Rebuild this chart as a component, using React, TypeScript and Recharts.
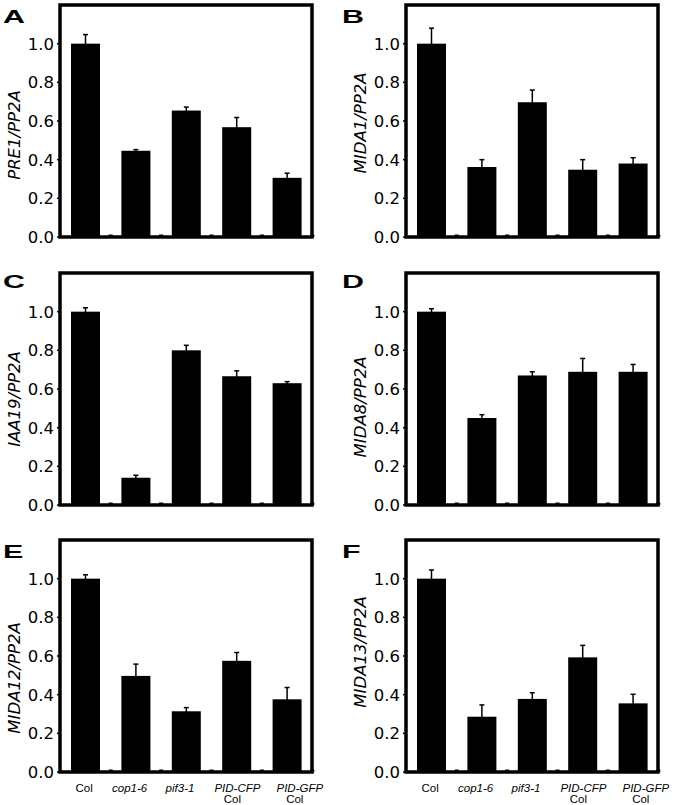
import React from 'react';
import { BarChart, Bar, XAxis, YAxis, ErrorBar, ReferenceArea } from 'recharts';

// genotypes on the x axis (second line is the background line)
const genotypes = ['Col', 'cop1-6', 'pif3-1', 'PID-CFP', 'PID-GFP'];
const backgrounds = ['', '', '', 'Col', 'Col'];
const yTicks = [0, 0.2, 0.4, 0.6, 0.8, 1.0];

// relative expression (mean) and upper error, per gene
const pre1Means = [1.0, 0.446, 0.654, 0.568, 0.306];
const pre1Errors = [0.047, 0.006, 0.018, 0.05, 0.024];

const mida1Means = [1.0, 0.362, 0.697, 0.348, 0.38];
const mida1Errors = [0.08, 0.038, 0.063, 0.052, 0.03];

const iaa19Means = [1.0, 0.141, 0.8, 0.666, 0.63];
const iaa19Errors = [0.02, 0.013, 0.026, 0.028, 0.008];

const mida8Means = [1.0, 0.45, 0.67, 0.689, 0.689];
const mida8Errors = [0.015, 0.017, 0.019, 0.069, 0.038];

const mida12Means = [1.0, 0.497, 0.314, 0.575, 0.376];
const mida12Errors = [0.02, 0.061, 0.019, 0.043, 0.061];

const mida13Means = [1.0, 0.286, 0.378, 0.593, 0.355];
const mida13Errors = [0.045, 0.061, 0.032, 0.062, 0.047];

// layout
const Y_AXIS_W = 60;
const PLOT_W = 252;
const PLOT_H = 232;
const MARGIN_T = 5;
const MARGIN_R = 18;
const BAND = PLOT_W / genotypes.length;
const line1Shift = [-1, -6, -6, 1, 13];
const line2Shift = [0, 0, 0, -4, 8];

const panels = [
  { letter: 'A', title: 'PRE1/PP2A', means: pre1Means, errors: pre1Errors, left: 0, top: 0, labels: false, titleShift: 14 },
  { letter: 'B', title: 'MIDA1/PP2A', means: mida1Means, errors: mida1Errors, left: 346, top: 0, labels: false, titleShift: 2 },
  { letter: 'C', title: 'IAA19/PP2A', means: iaa19Means, errors: iaa19Errors, left: 0, top: 268, labels: false, titleShift: 10 },
  { letter: 'D', title: 'MIDA8/PP2A', means: mida8Means, errors: mida8Errors, left: 346, top: 268, labels: false, titleShift: 18 },
  { letter: 'E', title: 'MIDA12/PP2A', means: mida12Means, errors: mida12Errors, left: 0, top: 535, labels: true, titleShift: 22 },
  { letter: 'F', title: 'MIDA13/PP2A', means: mida13Means, errors: mida13Errors, left: 346, top: 535, labels: true, titleShift: -4 },
];

const BarWithDivider = (props: any) => {
  const { x, y, width, height } = props;
  const base = y + height;
  const divider = x + width / 2 + BAND / 2;
  return (
    <g>
      <rect x={x} y={y} width={width} height={height} fill="#000" />
      <rect x={divider - 2} y={base - 2.5} width={4} height={2.5} fill="#000" />
    </g>
  );
};

const GenotypeTick = (props: any) => {
  const { x, y, payload, index } = props;
  const i = index ?? genotypes.indexOf(payload.value);
  return (
    <g>
      <text
        x={x + line1Shift[i]}
        y={y + 11.5}
        textAnchor="middle"
        fontFamily="'Liberation Sans', Arial, sans-serif"
        fontSize={11.5}
        fontStyle={i === 0 ? 'normal' : 'italic'}
        fill="#000"
      >
        {genotypes[i]}
      </text>
      {backgrounds[i] && (
        <text
          x={x + line2Shift[i]}
          y={y + 23}
          textAnchor="middle"
          fontFamily="'Liberation Sans', Arial, sans-serif"
          fontSize={11.5}
          fill="#000"
        >
          {backgrounds[i]}
        </text>
      )}
    </g>
  );
};

const ValueTick = (props: any) => {
  const { x, y, payload } = props;
  return (
    <text
      x={x}
      y={y}
      dy="0.36em"
      textAnchor="end"
      fontFamily="'DejaVu Sans', sans-serif"
      fontSize={16.5}
      fill="#000"
    >
      {Number(payload.value).toFixed(1)}
    </text>
  );
};

const AxisTitle = (props: any) => {
  const { viewBox, text, shift } = props;
  const cx = 14;
  const cy = viewBox.y + viewBox.height / 2 + shift;
  return (
    <text
      x={cx}
      y={cy}
      transform={`rotate(-90 ${cx} ${cy})`}
      textAnchor="middle"
      dominantBaseline="central"
      fontFamily="'DejaVu Sans', sans-serif"
      fontStyle="italic"
      fontSize={16.5}
      fill="#000"
    >
      {text}
    </text>
  );
};

const Panel = ({ panel }: { panel: any }) => {
  const data = genotypes.map((g, i) => ({ name: g, value: panel.means[i], err: panel.errors[i] }));
  const xHeight = panel.labels ? 32 : 0;
  const bottom = panel.labels ? 0 : 10;
  const width = Y_AXIS_W + PLOT_W + MARGIN_R;
  const height = MARGIN_T + PLOT_H + xHeight + bottom;
  return (
    <div style={{ position: 'absolute', left: panel.left, top: panel.top }}>
      <BarChart
        width={width}
        height={height}
        data={data}
        margin={{ top: MARGIN_T, right: MARGIN_R, left: 0, bottom }}
      >
        <XAxis
          dataKey="name"
          hide={!panel.labels}
          height={xHeight}
          axisLine={false}
          tickLine={false}
          interval={0}
          tick={<GenotypeTick />}
        />
        <YAxis
          type="number"
          domain={[0, 1.2]}
          ticks={yTicks}
          interval={0}
          width={Y_AXIS_W}
          axisLine={false}
          tickLine={{ stroke: '#000', strokeWidth: 1.5 }}
          tickSize={3}
          tickMargin={3}
          tick={<ValueTick />}
          label={(p: any) => <AxisTitle {...p} text={panel.title} shift={panel.titleShift} />}
        />
        <Bar
          dataKey="value"
          fill="#000"
          barSize={29}
          isAnimationActive={false}
          shape={(p: any) => <BarWithDivider {...p} />}
        >
          <ErrorBar dataKey="err" width={2.5} stroke="#000" strokeWidth={1.5} direction="y" />
        </Bar>
        <ReferenceArea y1={0} y2={1.2} fill="none" fillOpacity={0} stroke="#000" strokeWidth={3.5} ifOverflow="visible" />
      </BarChart>
    </div>
  );
};

const PanelLetter = ({ letter, left, top }: { letter: string; left: number; top: number }) => (
  <div
    style={{
      position: 'absolute',
      left,
      top,
      fontFamily: "'Liberation Sans', Arial, sans-serif",
      fontWeight: 'bold',
      fontSize: 19,
      lineHeight: '19px',
      transform: 'scaleX(1.6)',
      transformOrigin: 'left top',
      color: '#000',
    }}
  >
    {letter}
  </div>
);

export default function App() {
  return (
    <div style={{ position: 'absolute', left: 0, top: 0, width: 677, height: 805, background: '#fff', overflow: 'hidden' }}>
      {panels.map((p) => (
        <Panel key={p.letter} panel={p} />
      ))}
      <PanelLetter letter="A" left={3} top={7} />
      <PanelLetter letter="B" left={342} top={7} />
      <PanelLetter letter="C" left={3} top={272} />
      <PanelLetter letter="D" left={342} top={272} />
      <PanelLetter letter="E" left={3} top={542} />
      <PanelLetter letter="F" left={342} top={542} />
    </div>
  );
}
